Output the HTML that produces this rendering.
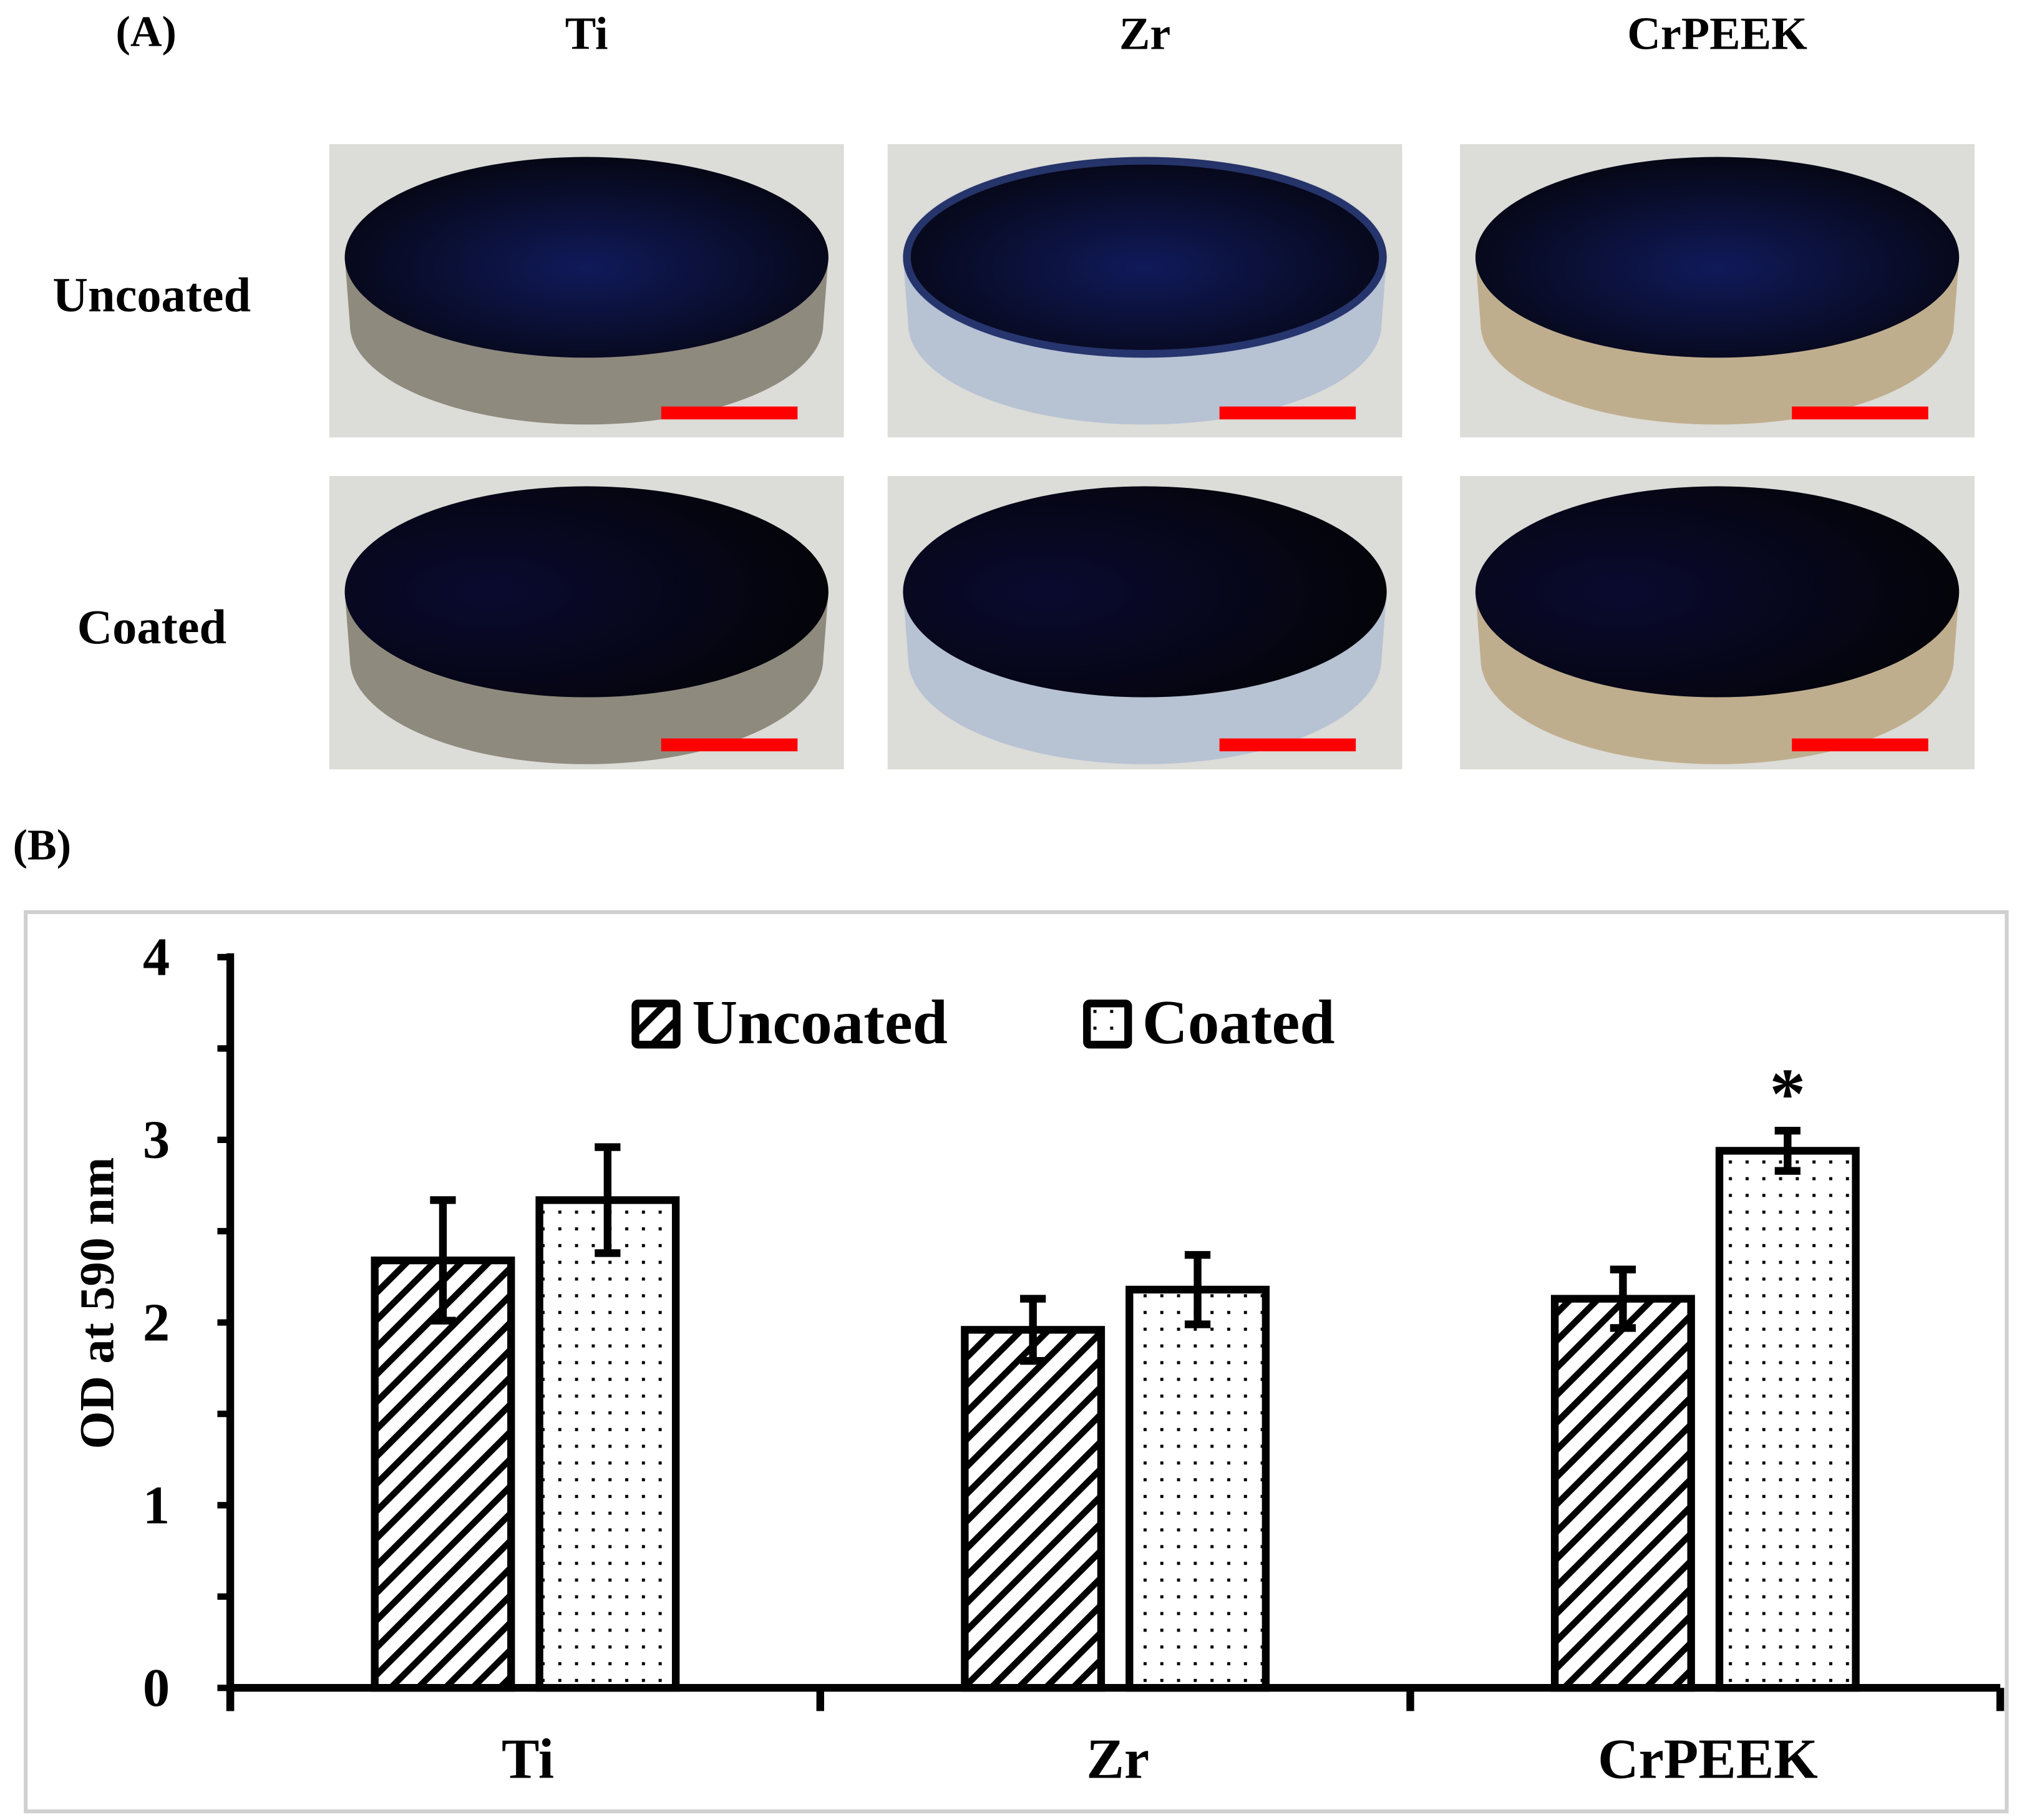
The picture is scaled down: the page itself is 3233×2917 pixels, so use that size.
<!DOCTYPE html>
<html><head><meta charset="utf-8"><style>
html,body{margin:0;padding:0;background:#fff}
svg{display:block}
text{font-family:"Liberation Serif",serif;font-weight:bold;fill:#000}
</style></head><body>
<svg id="fig" width="3233" height="2917" viewBox="0 0 1568 1414.7" preserveAspectRatio="none" xmlns="http://www.w3.org/2000/svg">
<defs>
<pattern id="hatch" patternUnits="userSpaceOnUse" width="15" height="15" patternTransform="rotate(45)">
<rect width="15" height="15" fill="#fff"/><rect x="0" y="0" width="5" height="15" fill="#000"/></pattern>
<pattern id="dots" patternUnits="userSpaceOnUse" width="13" height="13">
<rect width="13" height="13" fill="#fff"/><rect x="5" y="5" width="2.4" height="2.4" fill="#000"/></pattern>
<radialGradient id="topU" cx="0.5" cy="0.55" r="0.6"><stop offset="0" stop-color="#101a5a"/><stop offset="1" stop-color="#05050f"/></radialGradient>
<radialGradient id="topC" cx="0.3" cy="0.5" r="0.7"><stop offset="0" stop-color="#0a0a30"/><stop offset="1" stop-color="#04040a"/></radialGradient>
</defs>
<text x="90" y="36" font-size="34">(A)</text>
<text x="10" y="668" font-size="34">(B)</text>
<g id="photos"></g>
<rect x="20" y="709" width="1540" height="699" fill="none" stroke="#d0d0d0" stroke-width="3"/>
<g id="chart"></g>
</svg>
<script>
const NS='http://www.w3.org/2000/svg';
function mk(tag,attrs,parent,txt){const e=document.createElementNS(NS,tag);for(const k in attrs)e.setAttribute(k,attrs[k]);if(txt!==undefined)e.textContent=txt;parent.appendChild(e);return e;}

// ---------- Panel A (photos) ----------
const photoCols=['Ti','Zr','CrPEEK'];
const photoRows=['Uncoated','Coated'];
const colX=[256,690,1135];
const rowY=[112,370];
const sideColors=[['#8f8a7e','#a8a398'],['#b7c2d3','#c9d1de'],['#bfae8e','#cfc2a5']];
const P=document.getElementById('photos');
photoCols.forEach((c,ci)=>{
  const h=mk('text',{x:colX[ci]+200,y:38,'font-size':36,'text-anchor':'middle'},P,c);
  
  
});
photoRows.forEach((r,ri)=>{
  const t=mk('text',{x:118,y:rowY[ri]+130,'font-size':38,'text-anchor':'middle'},P,r);
  
  
  photoCols.forEach((c,ci)=>{
    const g=mk('g',{},P);
    
    
    const x=colX[ci],y=rowY[ri];
    mk('rect',{x:x,y:y,width:400,height:228,fill:'#dcdcd8'},g);
    const cx=x+200,cy=y+(ri===0?88:90),rx=188,ry=(ri===0?78:82),th=(ri===0?52:52);
    mk('path',{d:`M${cx-rx},${cy} L${cx-rx+4},${cy+th} A${rx-4},${ry} 0 0 0 ${cx+rx-4},${cy+th} L${cx+rx},${cy} Z`,fill:sideColors[ci][0]},g);
    mk('ellipse',{cx:cx,cy:cy,rx:rx,ry:ry,fill:ri===0?'url(#topU)':'url(#topC)'},g);
    if(ci===1&&ri===0) mk('ellipse',{cx:cx,cy:cy,rx:rx-3,ry:ry-3,fill:'none',stroke:'#3a52a0','stroke-width':6,opacity:0.6},g);
    const sb=mk('rect',{x:x+258,y:y+204,width:106,height:10,fill:'#ff0000'},g);
    
    
  });
});

// ---------- Panel B (chart) ----------
const categories=['Ti','Zr','CrPEEK'];
const uncoatedValues=[2.34,1.96,2.13];
const uncoatedErrors=[0.33,0.17,0.16];
const coatedValues=[2.67,2.18,2.94];
const coatedErrors=[0.29,0.19,0.11];
const yTicks=[0,1,2,3,4];
const significant=[false,false,true];

const C=document.getElementById('chart');
const x0=179,x1=1555,yBase=1312,yTop=744,yMax=4;
const yScale=v=>yBase-(v/yMax)*(yBase-yTop);
const band=(x1-x0)/categories.length;
const xCenter=i=>x0+band*(i+0.5);

const ya=mk('line',{x1:x0,y1:yTop-3,x2:x0,y2:yBase+18,stroke:'#000','stroke-width':6},C);


for(let v=0;v<=yMax;v+=0.5){
  const y=yScale(v);
  mk('line',{x1:x0-10,y1:y,x2:x0,y2:y,stroke:'#000','stroke-width':5},C);
}
yTicks.forEach(v=>{
  const t=mk('text',{x:132,y:yScale(v)+14,'font-size':42,'text-anchor':'end'},C,String(v));
  
  
});
const yt=mk('text',{x:0,y:0,'font-size':38,'text-anchor':'middle',transform:`translate(88,${yScale(2)-15}) rotate(-90)`},C,'OD at 590 nm');



const bw=106,gap=11;
function bar(i,val,err,fill,offset,name){
  const g=mk('g',{},C);
  
  
  const bx=offset<0?xCenter(i)-gap-bw:xCenter(i)+gap;
  const yt=yScale(val);
  mk('rect',{x:bx,y:yt,width:bw,height:yBase-yt,fill:fill,stroke:'#000','stroke-width':6},g);
  const mx=bx+bw/2,ye1=yScale(val+err),ye2=yScale(val-err);
  mk('line',{x1:mx,y1:ye1,x2:mx,y2:ye2,stroke:'#000','stroke-width':6},g);
  mk('line',{x1:mx-10,y1:ye1,x2:mx+10,y2:ye1,stroke:'#000','stroke-width':6},g);
  mk('line',{x1:mx-10,y1:ye2,x2:mx+10,y2:ye2,stroke:'#000','stroke-width':6},g);
  return mx;
}
categories.forEach((c,i)=>{
  bar(i,uncoatedValues[i],uncoatedErrors[i],'url(#hatch)',-1,'bar-uncoated-'+c.toLowerCase());
  const mx=bar(i,coatedValues[i],coatedErrors[i],'url(#dots)',1,'bar-coated-'+c.toLowerCase());
  if(significant[i]){
    const s=mk('text',{x:mx,y:yScale(coatedValues[i]+coatedErrors[i])-10,'font-size':56,'text-anchor':'middle'},C,'*');
    
    
  }
  const l=mk('text',{x:xCenter(i)+2,y:1382,'font-size':44,'text-anchor':'middle'},C,c);
  
  
});
const xa=mk('line',{x1:x0,y1:yBase,x2:x1,y2:yBase,stroke:'#000','stroke-width':6},C);


for(let i=0;i<=categories.length;i++){
  mk('line',{x1:x0+band*i,y1:yBase,x2:x0+band*i,y2:yBase+18,stroke:'#000','stroke-width':6},C);
}
const lg=mk('g',{},C);


const e1=mk('g',{},lg);


mk('rect',{x:494,y:780,width:32,height:32,fill:'url(#hatch)',stroke:'#000','stroke-width':6,rx:2},e1);
mk('text',{x:538,y:811,'font-size':49},e1,'Uncoated');
const e2=mk('g',{},lg);


mk('rect',{x:845,y:780,width:32,height:32,fill:'url(#dots)',stroke:'#000','stroke-width':6,rx:2},e2);
mk('text',{x:888,y:811,'font-size':49},e2,'Coated');
</script>
</body></html>
